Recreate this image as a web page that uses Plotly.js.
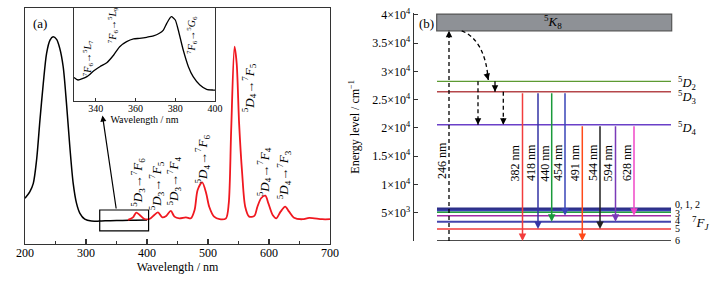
<!DOCTYPE html>
<html><head><meta charset="utf-8">
<script src="https://cdn.plot.ly/plotly-3.0.1.min.js"></script>
<style>html,body{margin:0;padding:0;background:#fff;}#chart{width:720px;height:282px;}</style>
</head><body><div id="chart"></div>
<script>
// ---------------- DATA: panel (a) ----------------
const excWl  = [200, 208, 213.6, 219, 224.5, 230, 235.4, 241, 246, 251.8, 257, 262.6, 268, 273.5, 279, 284.5, 290, 298, 309, 322, 340, 360, 380, 400];
const excInt = [19.4, 22.2, 25.7, 35.6, 52.5, 68.1, 80.8, 86.4, 87.8, 86.7, 82.9, 75.1, 59.6, 41.2, 25.7, 17.2, 13.0, 10.5, 9.7, 9.7, 9.9, 10.0, 10.1, 10.2];
const emWl  = [369, 377, 382.5, 388, 396, 404, 412, 418, 425, 431.5, 439, 445, 453, 464, 472, 478, 483, 490.5, 497, 502, 510, 519, 529.5, 534, 538, 543.5, 547, 551, 556, 561, 567.5, 576, 581, 587, 594, 599, 606, 612, 619, 626.5, 633, 641, 655, 666, 687, 700];
const emInt = [10.2, 11.3, 13.3, 12.3, 10.6, 10.6, 12.3, 13.4, 11.3, 11.9, 14.0, 11.6, 10.9, 11.3, 10.9, 14.4, 22.9, 26.1, 21.5, 15.8, 11.6, 10.5, 10.9, 17.2, 48.3, 83.6, 76.6, 51.1, 30.0, 15.8, 11.6, 11.9, 15.8, 19.4, 20.5, 17.2, 12.3, 10.9, 13.7, 15.8, 13.7, 11.1, 10.5, 11.1, 10.5, 10.5];
const insetWl  = [329, 331, 335.5, 339, 342, 345.5, 349, 352, 355.5, 359, 362, 365.6, 369, 372, 374, 375.7, 378, 380, 381.5, 384, 386.6, 389, 392.4, 395.8, 399, 400];
const insetInt = [25.4, 22.6, 26.2, 32.6, 36.9, 41.2, 49.5, 58.4, 63.8, 66.7, 67.4, 68.5, 69.9, 72.8, 76.3, 83.5, 90.7, 87.1, 76.3, 54.8, 36.9, 26.2, 17.2, 12.5, 11.8, 11.8];
const mainTickVals  = [200, 300, 400, 500, 600, 700];
const insetTickVals = [340, 360, 380, 400];
const emLabels = [
  '<sup>5</sup><i>D</i><sub>3</sub>→<sup>7</sup><i>F</i><sub>6</sub>',
  '<sup>5</sup><i>D</i><sub>3</sub>→<sup>7</sup><i>F</i><sub>5</sub>',
  '<sup>5</sup><i>D</i><sub>3</sub>→<sup>7</sup><i>F</i><sub>4</sub>',
  '<sup>5</sup><i>D</i><sub>4</sub>→<sup>7</sup><i>F</i><sub>6</sub>',
  '<sup>5</sup><i>D</i><sub>4</sub>→<sup>7</sup><i>F</i><sub>5</sub>',
  '<sup>5</sup><i>D</i><sub>4</sub>→<sup>7</sup><i>F</i><sub>4</sub>',
  '<sup>5</sup><i>D</i><sub>4</sub>→<sup>7</sup><i>F</i><sub>3</sub>'];
const insetLabels = [
  '<sup>7</sup><i>F</i><sub>6</sub>→<sup>5</sup><i>L</i><sub>7</sub>',
  '<sup>7</sup><i>F</i><sub>6</sub>→<sup>5</sup><i>L</i><sub>9</sub>',
  '<sup>7</sup><i>F</i><sub>6</sub>→<sup>5</sup><i>G</i><sub>6</sub>'];

// ---------------- DATA: panel (b) ----------------
const levelNames  = ['5K8', '5D2', '5D3', '5D4', '7F0', '7F1', '7F2', '7F3', '7F4', '7F5', '7F6'];
const levelEnergy = [37200, 28250, 26400, 20570, 5700, 5350, 5060, 4460, 3400, 2110, 0];
const levelLabels = {'5D2':'<sup>5</sup><i>D</i><sub>2</sub>', '5D3':'<sup>5</sup><i>D</i><sub>3</sub>', '5D4':'<sup>5</sup><i>D</i><sub>4</sub>'};
const fLabels     = ['0, 1, 2', '3', '4', '5', '6'];
const fLabelLevel = ['7F0', '7F3', '7F4', '7F5', '7F6'];
const transLabels = ['382 nm', '418 nm', '440 nm', '454 nm', '491 nm', '544 nm', '594 nm', '628 nm'];
const transFrom   = ['5D3', '5D3', '5D3', '5D3', '5D4', '5D4', '5D4', '5D4'];
const transTo     = ['7F6', '7F5', '7F4', '7F3', '7F6', '7F5', '7F4', '7F3'];
const excLabel    = '246 nm';
const relaxFrom   = ['5D2', '5D2', '5D3'];
const relaxTo     = ['5D4', '5D3', '5D4'];
const eTickVals   = [5000, 10000, 15000, 20000, 25000, 30000, 35000, 40000];
const eTickText   = ['5×10<sup>3</sup>', '1×10<sup>4</sup>', '1.5×10<sup>4</sup>', '2×10<sup>4</sup>', '2.5×10<sup>4</sup>', '3×10<sup>4</sup>', '3.5×10<sup>4</sup>', '4×10<sup>4</sup>'];

// ---------------- STYLE / LAYOUT ----------------
const W = 720, H = 282;
const fx = p => p / W, fy = p => 1 - p / H;
const SERIF = '"Liberation Serif", "Times New Roman", serif';
const AX = '#333';
const E = name => levelEnergy[levelNames.indexOf(name)];
const levelStyle = {
  '5D2': ['#5c9a32', 1.4], '5D3': ['#b5474a', 1.6], '5D4': ['#6a40c8', 1.4],
  '7F0': ['#2c2f88', 2.4], '7F1': ['#3c40b4', 1.8], '7F2': ['#25a040', 1.5],
  '7F3': ['#a02ca4', 1.5], '7F4': ['#4444ac', 2.0], '7F5': ['#f03a3a', 1.6], '7F6': ['#111', 1.4]
};
const levelLabelShift = {'5D2': -2, '5D3': -5, '5D4': -3};
const transX = [108.5, 124, 137.7, 151, 168.3, 186, 201.5, 220];
const transColor = ['#f23c3c', '#3535a5', '#1a9a3a', '#3a46b8', '#ff4a1a', '#222222', '#7a3ab8', '#f048c8'];
const relaxX = [64, 81, 89.3];
const excX = 35;
const LX0 = 23, LX1 = 257;
const emLabelPos = [[385, 26.3], [415.2, 24.6], [443.5, 26.7], [490.8, 36], [567.6, 66.1], [592.2, 30.5], [624.8, 29.2]];
const insetLabelPos = [[336.1, 46.2], [348.7, 81.7], [388.4, 71]];

const traces = [];
traces.push({x: excWl, y: excInt, xaxis: 'x', yaxis: 'y', mode: 'lines', line: {color: '#000', width: 1.5, shape: 'spline', smoothing: 0.8}, hoverinfo: 'skip'});
traces.push({x: emWl, y: emInt, xaxis: 'x', yaxis: 'y', mode: 'lines', line: {color: '#f01820', width: 1.8, shape: 'spline', smoothing: 0.8}, hoverinfo: 'skip'});
traces.push({x: insetWl, y: insetInt, xaxis: 'x3', yaxis: 'y3', mode: 'lines', line: {color: '#000', width: 1.3, shape: 'spline', smoothing: 0.6}, hoverinfo: 'skip'});

levelNames.forEach(n => {
  if (n === '5K8') return;
  const st = levelStyle[n];
  traces.push({x: [LX0, LX1], y: [E(n), E(n)], xaxis: 'x2', yaxis: 'y2', mode: 'lines', cliponaxis: false,
    line: {color: st[0], width: st[1]}, hoverinfo: 'skip'});
});
const DASH = '4px,3px';
traces.push({x: [excX, excX], y: [E('7F6'), E('5K8')], xaxis: 'x2', yaxis: 'y2', mode: 'lines', cliponaxis: false,
  line: {color: '#000', width: 1.3, dash: DASH}, hoverinfo: 'skip'});
relaxFrom.forEach((f, i) => {
  traces.push({x: [relaxX[i], relaxX[i]], y: [E(f), E(relaxTo[i])], xaxis: 'x2', yaxis: 'y2', mode: 'lines',
    line: {color: '#000', width: 1.3, dash: DASH}, hoverinfo: 'skip'});
});

const ann = [];
const fnt = (s, c) => ({family: SERIF, size: s, color: c || '#000'});
ann.push({xref: 'x', yref: 'y', x: 224.5, y: 93.6, text: '(a)', showarrow: false, font: fnt(13)});
emLabels.forEach((t, i) => ann.push({xref: 'x', yref: 'y', x: emLabelPos[i][0], y: emLabelPos[i][1], text: t, textangle: -90,
  showarrow: false, font: fnt(13)}));
insetLabels.forEach((t, i) => ann.push({xref: 'x3', yref: 'y3', x: insetLabelPos[i][0], y: insetLabelPos[i][1], text: t, textangle: -90,
  showarrow: false, font: fnt(10)}));
ann.push({xref: 'x', yref: 'y', axref: 'x', ayref: 'y', x: 327, y: 54.4, ax: 349.8, ay: 14.4, text: '', showarrow: true,
  arrowhead: 2, arrowsize: 1, arrowwidth: 1.2, arrowcolor: '#000'});

ann.push({xref: 'x2', yref: 'y2', x: 12.7, y: 38530, text: '(b)', showarrow: false, font: fnt(13)});
ann.push({xref: 'x2', yref: 'y2', x: 139, y: 38760, text: '<sup>5</sup><i>K</i><sub>8</sub>', showarrow: false, font: fnt(13)});
Object.keys(levelLabels).forEach(n => ann.push({xref: 'x2', yref: 'y2', x: 262, y: E(n), yshift: levelLabelShift[n], xanchor: 'left',
  text: levelLabels[n], showarrow: false, font: fnt(12.5)}));
const fShift = [4, 2.5, 1, 0, 0];
fLabels.forEach((t, i) => ann.push({xref: 'x2', yref: 'y2', x: 259, y: E(fLabelLevel[i]), yshift: fShift[i], xanchor: 'left',
  text: t, showarrow: false, font: fnt(10)}));
ann.push({xref: 'x2', yref: 'y2', x: 287, y: 3116, text: '<sup>7</sup><i>F</i><sub><i>J</i></sub>', showarrow: false, font: fnt(13)});
ann.push({xref: 'x2', yref: 'y2', x: 148, y: -1965, text: 'Tb<sup>3+</sup>', showarrow: false, font: fnt(12)});
transLabels.forEach((t, i) => {
  ann.push({xref: 'x2', yref: 'y2', axref: 'x2', ayref: 'y2', x: transX[i], y: E(transTo[i]), ax: transX[i], ay: E(transFrom[i]),
    text: '', showarrow: true, arrowhead: 2, arrowsize: 1, arrowwidth: 1.5, arrowcolor: transColor[i]});
  ann.push({xref: 'x2', yref: 'y2', x: transX[i], xshift: -7, y: 13790, text: t, textangle: -90, showarrow: false, font: fnt(12)});
});
ann.push({xref: 'x2', yref: 'y2', x: excX, xshift: -7, y: 14320, text: excLabel, textangle: -90, showarrow: false, font: fnt(12)});
ann.push({xref: 'x2', yref: 'y2', x: excX, y: E('5K8'), ax: 0, ay: 8, text: '', showarrow: true, arrowhead: 2, arrowsize: 1, arrowwidth: 1.3, arrowcolor: '#000'});
relaxFrom.forEach((f, i) => ann.push({xref: 'x2', yref: 'y2', x: relaxX[i], y: E(relaxTo[i]), ax: 0, ay: -8, text: '', showarrow: true,
  arrowhead: 2, arrowsize: 1, arrowwidth: 1.3, arrowcolor: '#000'}));
ann.push({xref: 'x2', yref: 'y2', x: 74.3, y: E('5D2') + 240, ax: -2, ay: -8, text: '', showarrow: true, arrowhead: 2, arrowsize: 1, arrowwidth: 1.3, arrowcolor: '#000'});

const shapes = [
  {type: 'rect', xref: 'x', yref: 'y', x0: 322.5, x1: 402.6, y0: 5.6, y1: 14.4, line: {color: '#000', width: 1.2}},
  {type: 'rect', xref: 'x2', yref: 'y2', x0: 22.7, x1: 257.7, y0: E('5K8'), y1: 40150, fillcolor: '#8e9196', line: {color: '#555', width: 1.2}, layer: 'below'},
  {type: 'path', xref: 'x2', yref: 'y2', path: 'M47.7,' + E('5K8') + ' Q71,35570 74.3,' + (E('5D2') + 240), line: {color: '#000', width: 1.3, dash: DASH}}
];

const layout = {
  width: W, height: H, margin: {l: 0, r: 0, t: 0, b: 0}, paper_bgcolor: '#fff', plot_bgcolor: 'rgba(0,0,0,0)',
  showlegend: false, font: {family: SERIF, size: 12, color: '#000'},
  xaxis: {domain: [fx(25), fx(330)], range: [200, 700], anchor: 'y', showline: true, linecolor: AX, linewidth: 1.3, mirror: true,
    ticks: 'inside', ticklen: 5, tickwidth: 1.2, tickcolor: AX, tickvals: mainTickVals, showgrid: false, zeroline: false,
    ticklabelstandoff: -3,
    minor: {dtick: 50, tick0: 200, ticks: 'inside', ticklen: 3, tickwidth: 1, tickcolor: AX, showgrid: false},
    tickfont: {family: SERIF, size: 12}, title: {text: 'Wavelength / nm', font: {family: SERIF, size: 12}, standoff: 0}},
  yaxis: {domain: [fy(244), fy(8)], range: [0, 100], anchor: 'x', showline: true, linecolor: AX, linewidth: 1.3, mirror: true,
    ticks: '', showticklabels: false, showgrid: false, zeroline: false},
  xaxis3: {domain: [fx(74), fx(215)], range: [329, 400], anchor: 'y3', showline: true, linecolor: AX, linewidth: 1.2, mirror: true,
    ticks: 'inside', ticklen: 3, tickcolor: AX, tickvals: insetTickVals, showgrid: false, zeroline: false, ticklabelstandoff: -2,
    tickfont: {family: SERIF, size: 10}, title: {text: 'Wavelength / nm', font: {family: SERIF, size: 10}, standoff: 0}},
  yaxis3: {domain: [fy(101), fy(8)], range: [0, 100], anchor: 'x3', showline: true, linecolor: AX, linewidth: 1.2, mirror: true,
    ticks: '', showticklabels: false, showgrid: false, zeroline: false},
  xaxis2: {domain: [fx(414), 1], range: [0, 306], anchor: 'y2', visible: false},
  yaxis2: {domain: [fy(240.9), fy(12.7)], range: [0, 40400], anchor: 'x2', showline: true, linecolor: AX, linewidth: 1.3,
    ticks: 'inside', ticklen: 4, tickcolor: AX, tickvals: eTickVals, ticktext: eTickText, showgrid: false, zeroline: false,
    tickfont: {family: SERIF, size: 12}, title: {text: 'Energy level / cm<sup>−1</sup>', font: {family: SERIF, size: 12}, standoff: 10}},
  annotations: ann, shapes: shapes
};
Plotly.newPlot('chart', traces, layout, {staticPlot: true, displayModeBar: false});
</script></body></html>
